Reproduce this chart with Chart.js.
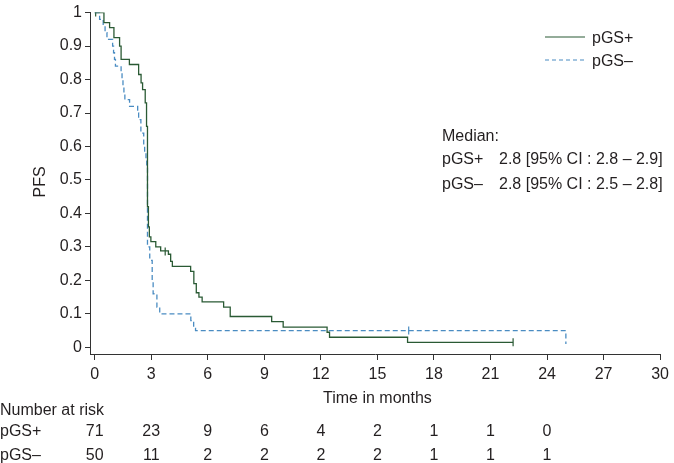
<!DOCTYPE html>
<html>
<head>
<meta charset="utf-8">
<script src="https://cdn.jsdelivr.net/npm/chart.js@4.4.1/dist/chart.umd.min.js"></script>
<style>
  html, body { margin: 0; padding: 0; background: #fff; }
  #km { display: block; }
</style>
</head>
<body>
<canvas id="km" width="674" height="463"></canvas>
<script>
// Kaplan-Meier step data (time in months, PFS after each drop)
const posTimes = [0, 0.49, 0.79, 1.02, 1.32, 1.40, 1.84, 2.33, 2.46, 2.54, 2.68, 2.75, 2.80, 2.85, 2.90, 2.98, 3.24, 3.50, 3.91, 4.03, 4.12, 5.09, 5.26, 5.39, 5.53, 5.70, 6.84, 7.19, 9.39, 10.0, 12.33, 12.46, 16.6, 22.2];
const posSurv  = [1, 0.97, 0.955, 0.925, 0.90, 0.86, 0.845, 0.815, 0.79, 0.77, 0.73, 0.66, 0.42, 0.36, 0.33, 0.316, 0.30, 0.288, 0.278, 0.257, 0.242, 0.227, 0.19, 0.163, 0.15, 0.136, 0.12, 0.092, 0.077, 0.06, 0.045, 0.03, 0.015, 0.015];

const negTimes = [0, 0.26, 0.45, 0.55, 0.65, 0.95, 1.0, 1.05, 1.1, 1.4, 1.45, 1.5, 1.55, 1.6, 1.85, 2.28, 2.33, 2.45, 2.6, 2.65, 2.72, 2.76, 2.80, 2.92, 3.05, 3.10, 3.30, 3.45, 5.10, 5.25, 5.35, 25.0];
const negSurv  = [1, 0.98, 0.96, 0.94, 0.92, 0.90, 0.88, 0.86, 0.84, 0.82, 0.80, 0.78, 0.76, 0.74, 0.72, 0.70, 0.68, 0.64, 0.60, 0.58, 0.56, 0.54, 0.30, 0.26, 0.20, 0.16, 0.12, 0.10, 0.08, 0.06, 0.05, 0.01];

// censoring marks
const posCensTimes = [0.05, 3.74, 22.2];
const posCensSurv  = [1, 0.286, 0.015];
const negCensTimes = [16.66];
const negCensSurv  = [0.05];

// axes
const xTicks = [0, 3, 6, 9, 12, 15, 18, 21, 24, 27, 30];
const yTicks = [0, 0.1, 0.2, 0.3, 0.4, 0.5, 0.6, 0.7, 0.8, 0.9, 1];

// number at risk table
const riskTimes = [0, 3, 6, 9, 12, 15, 18, 21, 24];
const riskPos = [71, 23, 9, 6, 4, 2, 1, 1, 0];
const riskNeg = [50, 11, 2, 2, 2, 2, 1, 1, 1];

const seriesNames = ['pGS+', 'pGS–'];
const medianLines = ['2.8 [95% CI : 2.8 – 2.9]', '2.8 [95% CI : 2.5 – 2.8]'];

const GREEN = '#2a5a34';
const BLUE = '#4a8cc2';
const TEXT = '#231f20';
const FONT = '"Liberation Sans", Arial, sans-serif';

function toPoints(xs, ys) {
    return xs.map((x, i) => ({ x: x, y: ys[i] }));
}

const extras = {
    id: 'extras',
    afterDraw(chart) {
        const ctx = chart.ctx;
        const xs = chart.scales.x;
        const ys = chart.scales.y;
        ctx.save();
        ctx.fillStyle = TEXT;
        ctx.font = '16px ' + FONT;
        ctx.textBaseline = 'alphabetic';

        // axis titles
        ctx.textAlign = 'center';
        ctx.fillText('Time in months', (xs.getPixelForValue(0) + xs.getPixelForValue(30)) / 2, 403);
        ctx.save();
        ctx.translate(45, (ys.getPixelForValue(0) + ys.getPixelForValue(1)) / 2 + 2);
        ctx.rotate(-Math.PI / 2);
        ctx.fillText('PFS', 0, 0);
        ctx.restore();

        // legend
        const legY = [37, 60];
        const colors = [GREEN, BLUE];
        for (let i = 0; i < 2; i++) {
            ctx.strokeStyle = colors[i];
            ctx.lineWidth = 1.2;
            ctx.setLineDash(i === 1 ? [4, 3] : []);
            ctx.beginPath();
            ctx.moveTo(545, legY[i]);
            ctx.lineTo(585, legY[i]);
            ctx.stroke();
            ctx.setLineDash([]);
            ctx.textAlign = 'left';
            ctx.fillText(seriesNames[i], 592, legY[i] + 6);
        }

        // median text
        ctx.textAlign = 'left';
        ctx.fillText('Median:', 442, 141);
        ctx.fillText(seriesNames[0], 442, 164);
        ctx.fillText(medianLines[0], 499, 164);
        ctx.fillText(seriesNames[1], 442, 189);
        ctx.fillText(medianLines[1], 499, 189);

        // number at risk
        ctx.fillText('Number at risk', 0, 415);
        ctx.fillText(seriesNames[0], 0, 436);
        ctx.fillText(seriesNames[1], 0, 460);
        ctx.textAlign = 'center';
        riskTimes.forEach((t, i) => {
            const px = xs.getPixelForValue(t);
            ctx.fillText(String(riskPos[i]), px, 436);
            ctx.fillText(String(riskNeg[i]), px, 460);
        });
        ctx.restore();
    }
};

const chart = new Chart(document.getElementById('km'), {
    type: 'line',
    data: {
        datasets: [
            {
                label: seriesNames[0],
                data: toPoints(posTimes, posSurv),
                stepped: 'before',
                borderColor: GREEN,
                borderWidth: 1.3,
                pointRadius: 0,
                fill: false
            },
            {
                label: seriesNames[1],
                data: toPoints(negTimes, negSurv),
                stepped: 'before',
                borderColor: BLUE,
                borderWidth: 1.3,
                borderDash: [5, 3],
                pointRadius: 0,
                fill: false
            },
            {
                type: 'scatter',
                data: toPoints(posCensTimes, posCensSurv),
                pointStyle: 'line',
                rotation: 90,
                radius: 4,
                borderColor: GREEN,
                borderWidth: 1.2
            },
            {
                type: 'scatter',
                data: toPoints(negCensTimes, negCensSurv),
                pointStyle: 'line',
                rotation: 90,
                radius: 4,
                borderColor: BLUE,
                borderWidth: 1.2
            }
        ]
    },
    options: {
        responsive: false,
        animation: false,
        devicePixelRatio: 1,
        layout: { padding: { left: 0, right: 10, top: 8, bottom: 0 } },
        plugins: {
            legend: { display: false },
            tooltip: { enabled: false }
        },
        scales: {
            x: {
                type: 'linear',
                min: -0.25,
                max: 30,
                afterBuildTicks: (s) => { s.ticks = xTicks.map(v => ({ value: v })); },
                afterFit: (s) => { s.height = 109; },
                grid: { drawOnChartArea: false, tickLength: 6, color: '#333', tickWidth: 1 },
                border: { color: '#333', width: 1 },
                ticks: {
                    color: TEXT,
                    font: { family: FONT, size: 16 },
                    padding: 5,
                    maxRotation: 0,
                    autoSkip: false
                }
            },
            y: {
                min: -0.02,
                max: 1,
                afterBuildTicks: (s) => { s.ticks = yTicks.map(v => ({ value: v })); },
                afterFit: (s) => { s.width = 90; },
                grid: { drawOnChartArea: false, tickLength: 5, color: '#333', tickWidth: 1 },
                border: { color: '#333', width: 1 },
                ticks: {
                    color: TEXT,
                    font: { family: FONT, size: 16 },
                    padding: 3,
                    callback: (v) => String(Number(v.toFixed(1)))
                }
            }
        }
    },
    plugins: [extras]
});
</script>
</body>
</html>
